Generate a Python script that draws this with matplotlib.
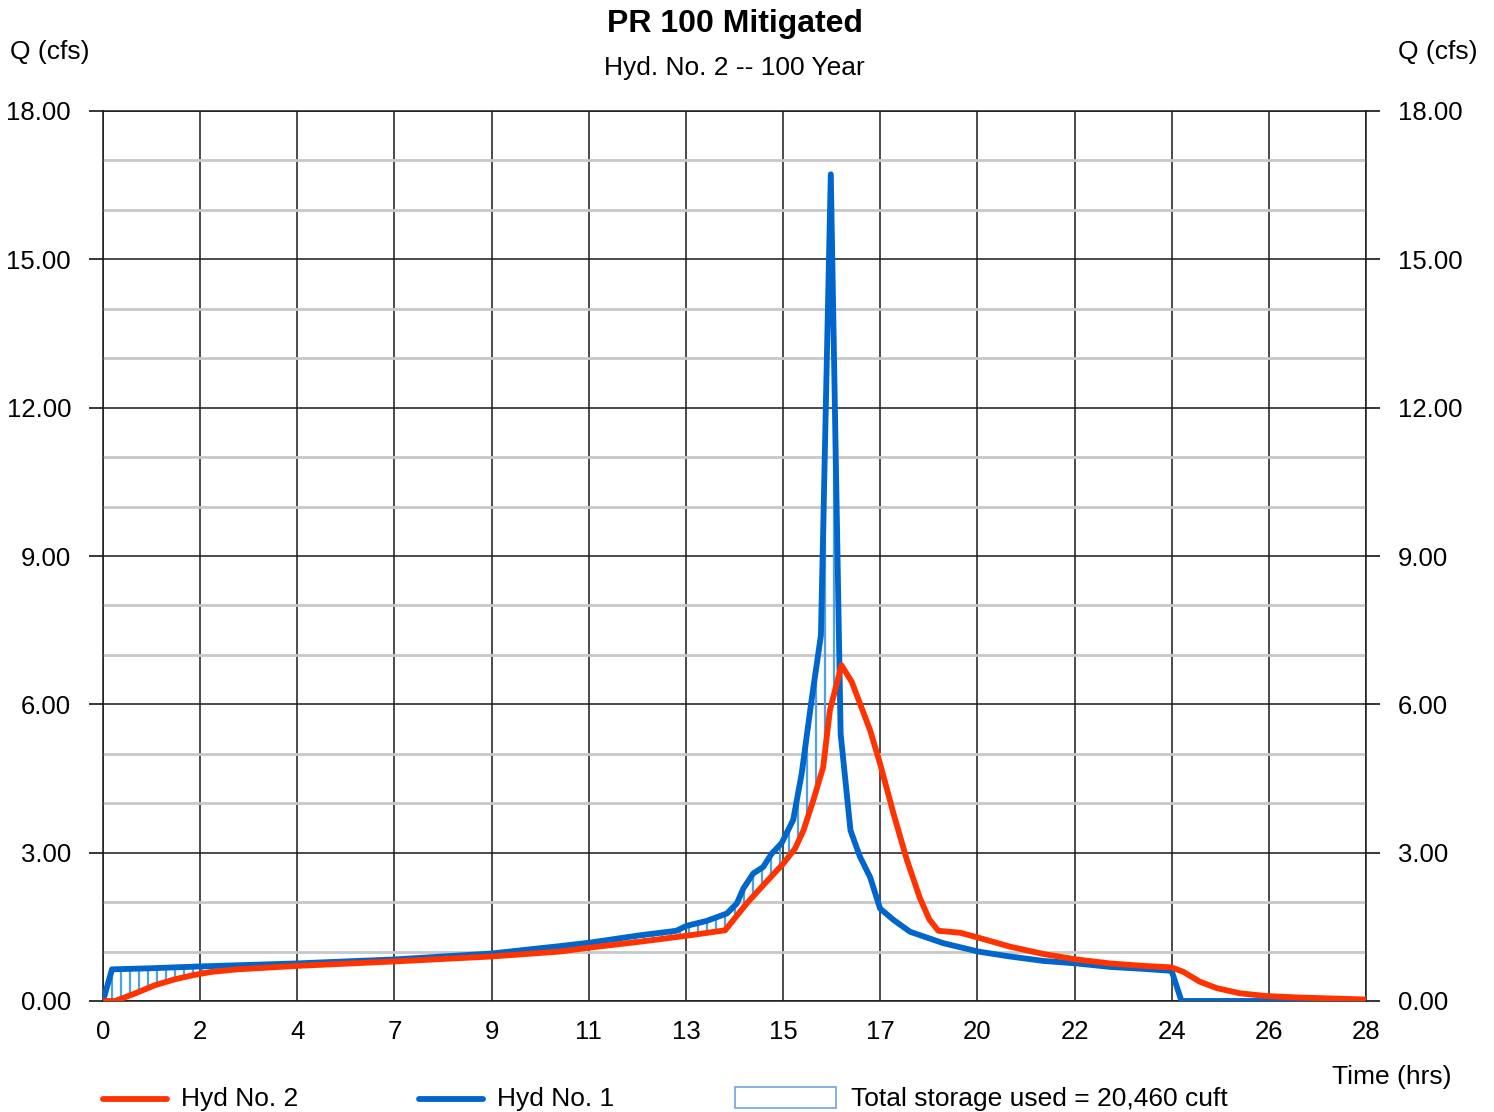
import numpy as np
import matplotlib
matplotlib.use("Agg")
import matplotlib.pyplot as plt
from matplotlib.lines import Line2D
from matplotlib.patches import Rectangle

plt.rcParams['font.family'] = ['Liberation Sans', 'DejaVu Sans']

# time axis (hrs) -- 13 equal intervals, labels as printed on the chart
x_max = 28.2
x_labels = ['0', '2', '4', '7', '9', '11', '13', '15', '17', '20', '22', '24', '26', '28']

# Hyd No. 1 (inflow)
t1 = [0.0, 0.2, 1.0, 2.2, 4.33, 6.5, 8.67, 10.2, 10.87, 12.0, 12.8, 13.03, 13.48,
      13.93, 14.15, 14.3, 14.52, 14.74, 14.93, 15.15, 15.41, 15.6, 15.82, 16.03,
      16.25, 16.47, 16.69, 16.9, 17.13, 17.35, 17.65, 18.02, 18.76, 19.54, 20.25,
      21.0, 21.74, 22.48, 23.23, 23.86, 24.08, 28.2]
q1 = [0.0, 0.64, 0.66, 0.70, 0.76, 0.84, 0.96, 1.11, 1.18, 1.33, 1.42, 1.52, 1.62,
      1.77, 1.97, 2.28, 2.58, 2.71, 2.98, 3.19, 3.66, 4.60, 6.08, 7.40,
      16.72, 5.40, 3.45, 2.92, 2.50, 1.87, 1.64, 1.40, 1.17, 1.00, 0.90,
      0.81, 0.76, 0.69, 0.65, 0.61, 0.0, 0.0]

# Hyd No. 2 (outflow)
t2 = [0.0, 0.27, 0.71, 1.16, 1.61, 2.05, 2.43, 3.0, 4.33, 6.5, 8.67, 10.2, 10.87,
      12.0, 13.03, 13.89, 14.37, 14.74, 15.19, 15.45, 15.64, 15.86, 16.08, 16.23,
      16.49, 16.72, 17.13, 17.35, 17.65, 17.95, 18.24, 18.45, 18.65, 19.14, 19.51,
      20.25, 21.0, 21.74, 22.48, 23.23, 23.86, 24.12, 24.49, 24.87, 25.39, 25.98,
      26.73, 27.47, 28.2]
q2 = [0.0, 0.0, 0.15, 0.32, 0.44, 0.53, 0.59, 0.64, 0.71, 0.80, 0.90, 1.00, 1.08,
      1.20, 1.32, 1.43, 1.97, 2.34, 2.78, 3.08, 3.45, 4.06, 4.73, 5.88,
      6.79, 6.45, 5.47, 4.80, 3.79, 2.85, 2.08, 1.65, 1.42, 1.38, 1.29,
      1.10, 0.95, 0.84, 0.76, 0.71, 0.68, 0.59, 0.39, 0.26, 0.155, 0.10,
      0.07, 0.05, 0.03]

storage_label = 'Total storage used = 20,460 cuft'

red = '#FF3300'
blue = '#0066CC'
hatch_c = '#4DA3E6'

W, H = 1494, 1112
fig = plt.figure(figsize=(W / 100, H / 100), dpi=100)
ax = fig.add_axes([103 / W, 111 / H, 1263 / W, 890 / H])

ax.set_xlim(0, x_max)
ax.set_ylim(0, 18)

# grid
ax.set_yticks(np.arange(0, 18.01, 3))
ax.set_yticks(np.arange(0, 18.01, 1), minor=True)
ax.set_yticklabels(['%.2f' % v for v in np.arange(0, 18.01, 3)])
ax.set_xticks(np.linspace(0, x_max, len(x_labels)))
ax.set_xticklabels(x_labels)
ax.grid(which='minor', axis='y', color='#C8C8C8', lw=2.0, zorder=0)
ax.grid(which='major', axis='y', color='#1a1a1a', lw=1.1, zorder=0.5)
ax.grid(which='major', axis='x', color='#1a1a1a', lw=1.1, zorder=0.5)
ax.tick_params(axis='y', which='major', length=10, width=1.1, pad=13,
               labelsize=18.5, right=True, labelright=True, direction='out')
ax.tick_params(axis='y', which='minor', length=0)
ax.tick_params(axis='x', length=0, pad=14, labelsize=18.5)
for s in ax.spines.values():
    s.set_color('#1a1a1a')
    s.set_linewidth(1.1)

# storage hatch: vertical lines where inflow exceeds outflow
th = np.linspace(0, x_max, 141)
h1 = np.interp(th, t1, q1)
h2 = np.interp(th, t2, q2)
m = h1 > h2
ax.vlines(th[m], h2[m], h1[m], color=hatch_c, lw=1.6, zorder=2)

ax.plot(t1, q1, color=blue, lw=4.2, zorder=3, solid_joinstyle='round')
ax.plot(t2, q2, color=red, lw=4.2, zorder=4, solid_joinstyle='round')

# titles and axis labels
fig.text(735 / W, 1 - 24 / H, 'PR 100 Mitigated', ha='center', va='center',
         fontsize=23, fontweight='bold')
fig.text(734 / W, 1 - 68 / H, 'Hyd. No. 2 -- 100 Year', ha='center', va='center', fontsize=19)
fig.text(10 / W, 1 - 52 / H, 'Q (cfs)', ha='left', va='center', fontsize=19)
fig.text(1477 / W, 1 - 52 / H, 'Q (cfs)', ha='right', va='center', fontsize=19)
fig.text(1451 / W, 1 - 1077 / H, 'Time (hrs)', ha='right', va='center', fontsize=19)

# legend
ly = 1 - 1099 / H
fig.add_artist(Line2D([103 / W, 167 / W], [ly, ly], color=red, lw=4.2, solid_capstyle='round'))
fig.text(181 / W, ly, 'Hyd No. 2', ha='left', va='center', fontsize=19)
fig.add_artist(Line2D([419 / W, 483 / W], [ly, ly], color=blue, lw=4.2, solid_capstyle='round'))
fig.text(497 / W, ly, 'Hyd No. 1', ha='left', va='center', fontsize=19)
fig.add_artist(Rectangle((735 / W, 1 - 1108 / H), 101 / W, 21 / H, facecolor='white',
                         edgecolor='#6FA6DE', lw=1.2))
fig.text(851 / W, ly, storage_label, ha='left', va='center', fontsize=19)

fig.savefig('out.png', dpi=100)
